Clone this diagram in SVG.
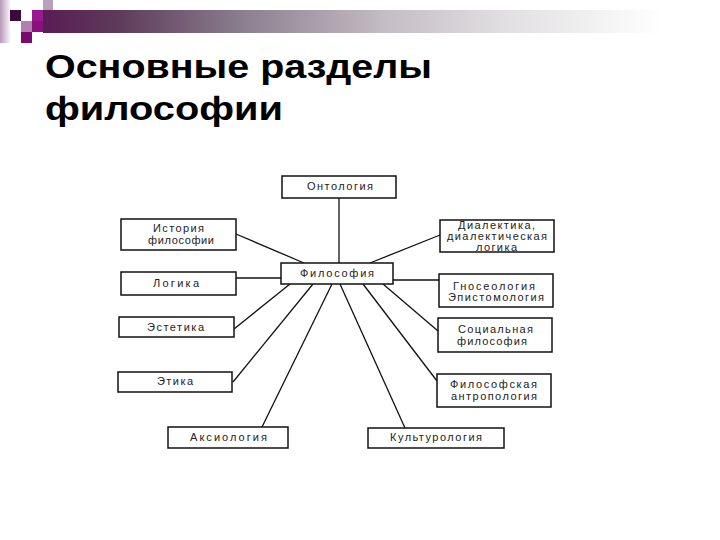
<svg xmlns="http://www.w3.org/2000/svg" width="720" height="540" viewBox="0 0 720 540">
<defs>
<linearGradient id="bar" x1="0" y1="0" x2="1" y2="0">
<stop offset="0" stop-color="#5a1c55"/>
<stop offset="0.12" stop-color="#5e3a5a"/>
<stop offset="0.33" stop-color="#8c8290"/>
<stop offset="0.55" stop-color="#c4bcc4"/>
<stop offset="0.75" stop-color="#e2e0e2"/>
<stop offset="1" stop-color="#ffffff"/>
</linearGradient>
<linearGradient id="strip" x1="0" y1="0" x2="1" y2="0">
<stop offset="0" stop-color="#b898b8"/>
<stop offset="1" stop-color="#ffffff"/>
</linearGradient>
<style>
.box{fill:#fff;stroke:#111;stroke-width:1.5}
.t{font-family:"Liberation Sans",Arial,sans-serif;font-size:11px;fill:#222}
.title{font-family:"Liberation Sans",Arial,sans-serif;font-size:34px;font-weight:bold;fill:#000}
.c line{stroke:#111;stroke-width:1.3}
</style>
</defs>
<rect width="720" height="540" fill="#fff"/>
<g id="header">
<rect x="0" y="0" width="11" height="43" fill="url(#strip)"/>
<rect x="43" y="10" width="620" height="23" fill="url(#bar)"/>
<rect x="43" y="0" width="10" height="10" fill="#b8a0b8"/>
<rect x="10" y="10" width="11" height="11" fill="#3a0a38"/>
<rect x="21" y="10" width="11" height="11" fill="#ffffff"/>
<rect x="32" y="10" width="11" height="11" fill="#9a1890"/>
<rect x="21" y="21" width="11" height="11" fill="#b080b0"/>
<rect x="32" y="21" width="11" height="11" fill="#8a1080"/>
<rect x="21" y="32" width="11" height="11" fill="#7a0a70"/>
</g>
<g id="title">
<text class="title" x="45" y="78" textLength="387" lengthAdjust="spacingAndGlyphs">Основные разделы</text>
<text class="title" x="45" y="120" textLength="238" lengthAdjust="spacingAndGlyphs">философии</text>
</g>
<g class="c" id="connectors">
<line x1="339" y1="198" x2="339" y2="263"/>
<line x1="236" y1="234" x2="304" y2="263"/>
<line x1="440" y1="235" x2="370" y2="263"/>
<line x1="236" y1="278" x2="281" y2="278"/>
<line x1="393" y1="280" x2="439" y2="280"/>
<line x1="290" y1="284" x2="234" y2="329"/>
<line x1="313" y1="284" x2="233" y2="382"/>
<line x1="332" y1="284" x2="262" y2="427"/>
<line x1="340" y1="284" x2="405" y2="428"/>
<line x1="363" y1="284" x2="437" y2="381"/>
<line x1="383" y1="284" x2="438" y2="331"/>
</g>
<g id="ontology">
<rect class="box" x="282" y="176" width="114" height="22"/>
<text class="t" x="307" y="190" textLength="66">Онтология</text>
</g>
<g id="philosophy">
<rect class="box" x="281" y="263" width="112" height="21"/>
<text class="t" x="300" y="277" textLength="74">Философия</text>
</g>
<g id="history">
<rect class="box" x="121" y="219" width="115" height="31"/>
<text class="t" x="153" y="232" textLength="51">История</text>
<text class="t" x="148" y="244" textLength="66">философии</text>
</g>
<g id="logic">
<rect class="box" x="121" y="272" width="115" height="23"/>
<text class="t" x="153" y="287" textLength="46">Логика</text>
</g>
<g id="aesthetics">
<rect class="box" x="119" y="317" width="115" height="20"/>
<text class="t" x="147" y="331" textLength="57">Эстетика</text>
</g>
<g id="ethics">
<rect class="box" x="118" y="372" width="114" height="20"/>
<text class="t" x="157" y="385" textLength="36">Этика</text>
</g>
<g id="axiology">
<rect class="box" x="168" y="427" width="120" height="21"/>
<text class="t" x="190" y="441" textLength="77">Аксиология</text>
</g>
<g id="dialectics">
<rect class="box" x="440" y="220" width="114" height="32"/>
<text class="t" x="458" y="229" textLength="77">Диалектика,</text>
<text class="t" x="447" y="240" textLength="100">диалектическая</text>
<text class="t" x="476" y="251" textLength="41">логика</text>
</g>
<g id="gnoseology">
<rect class="box" x="439" y="274" width="114" height="33"/>
<text class="t" x="453" y="290" textLength="82">Гносеология</text>
<text class="t" x="448" y="301" textLength="96">Эпистомология</text>
</g>
<g id="social">
<rect class="box" x="438" y="318" width="114" height="34"/>
<text class="t" x="458" y="333" textLength="75">Социальная</text>
<text class="t" x="457" y="345" textLength="70">философия</text>
</g>
<g id="anthropology">
<rect class="box" x="437" y="374" width="114" height="33"/>
<text class="t" x="450" y="388" textLength="87">Философская</text>
<text class="t" x="451" y="400" textLength="86">антропология</text>
</g>
<g id="culturology">
<rect class="box" x="368" y="428" width="136" height="20"/>
<text class="t" x="390" y="441" textLength="92">Культурология</text>
</g>
</svg>
